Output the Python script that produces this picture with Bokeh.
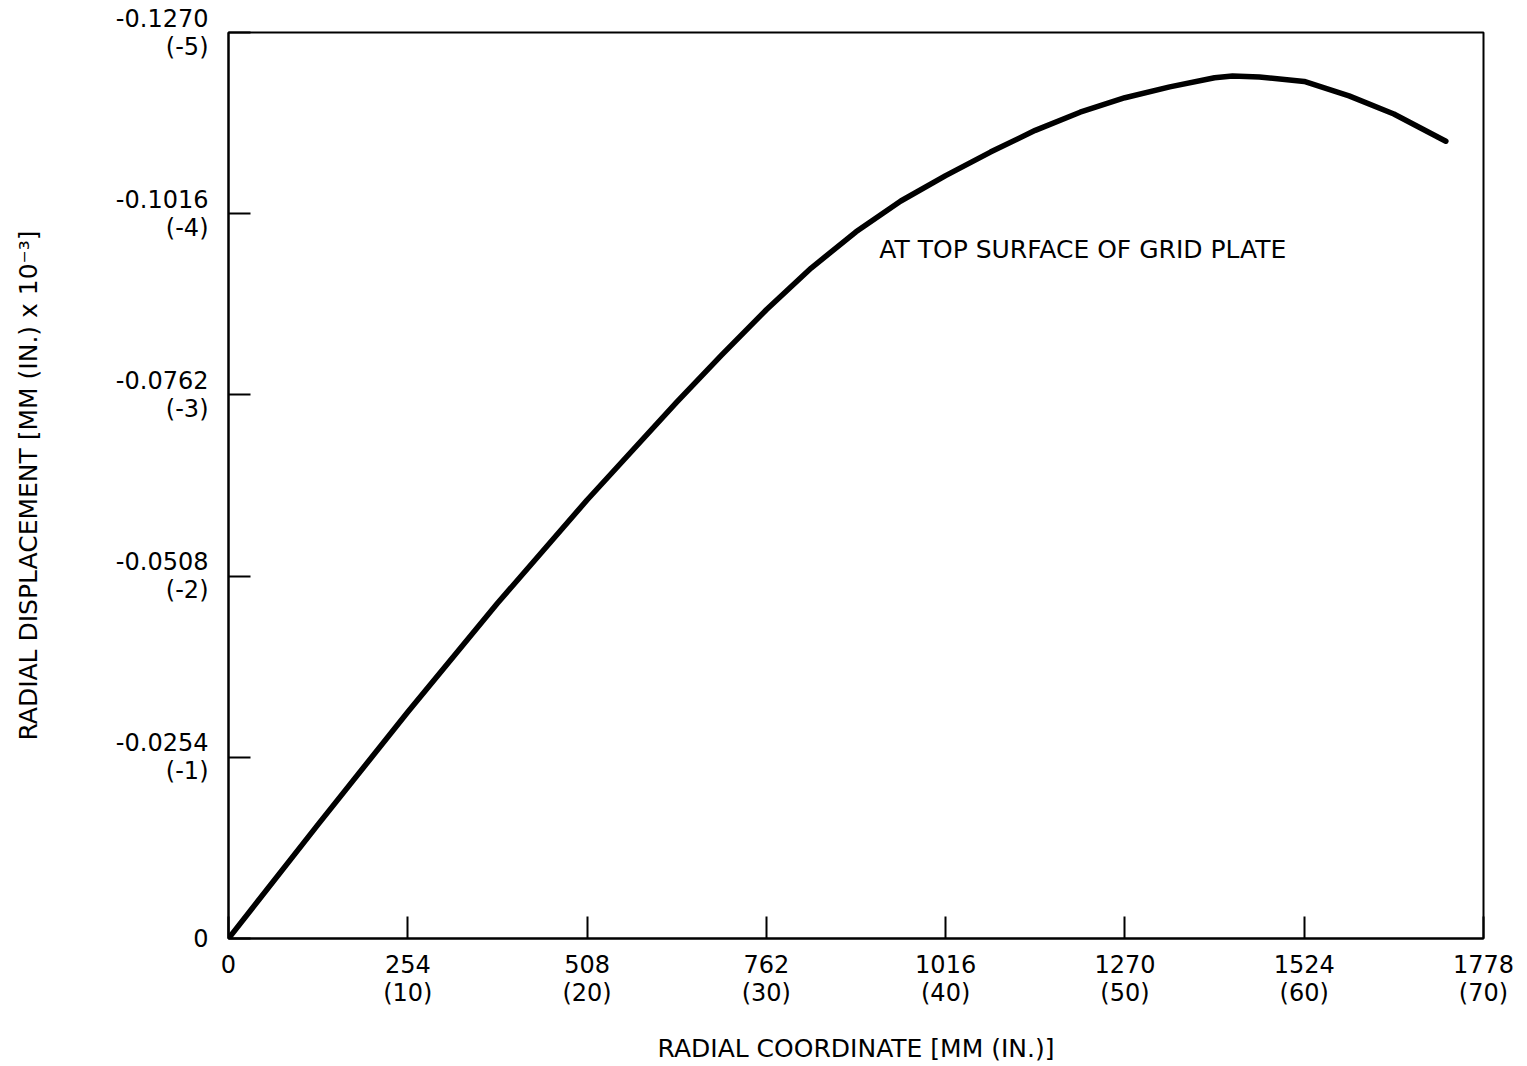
from bokeh.plotting import figure
from bokeh.models import Range1d, FixedTicker, Label
from bokeh.embed import file_html
from bokeh.resources import INLINE

# Radial coordinate (in.) and radial displacement (in. x 10^-3)
radial_in = [0, 5, 10, 15, 20, 25, 27.5, 30, 32.5, 35, 37.5, 40, 42.5, 45, 47.5, 50,
             52.5, 55, 56, 57.5, 60, 62.5, 65, 67.9]
disp_in_e3 = [0, -0.63, -1.25, -1.85, -2.42, -2.96, -3.22, -3.47, -3.70, -3.90, -4.07,
              -4.21, -4.34, -4.46, -4.56, -4.64, -4.70, -4.75, -4.76, -4.755, -4.73,
              -4.65, -4.55, -4.40]

x_ticks = [0, 10, 20, 30, 40, 50, 60, 70]
x_tick_labels = ["0", "254\n(10)", "508\n(20)", "762\n(30)", "1016\n(40)",
                 "1270\n(50)", "1524\n(60)", "1778\n(70)"]
y_ticks = [0, -1, -2, -3, -4, -5]
y_tick_labels = ["0", "-0.0254\n(-1)", "-0.0508\n(-2)", "-0.0762\n(-3)",
                 "-0.1016\n(-4)", "-0.1270\n(-5)"]

annotation_text = "AT TOP SURFACE OF GRID PLATE"
annotation_pos = (36.3, -3.80)

FONT = "DejaVu Sans"

p = figure(width=1519, height=1066, output_backend="svg", toolbar_location=None,
           x_range=Range1d(0, 70), y_range=Range1d(0, -5),
           min_border_left=228, min_border_top=32, min_border_right=36,
           min_border_bottom=128)

p.line(radial_in, disp_in_e3, line_color="black", line_width=5.5,
       line_cap="round", line_join="round")

p.add_layout(Label(x=annotation_pos[0], y=annotation_pos[1], text=annotation_text,
                   text_font=FONT, text_font_size="25px", text_color="black",
                   text_align="left", text_baseline="middle"))

p.xgrid.visible = False
p.ygrid.visible = False
p.outline_line_color = "black"
p.outline_line_width = 2
p.background_fill_color = "white"
p.border_fill_color = "white"

p.xaxis.ticker = FixedTicker(ticks=x_ticks)
p.xaxis.major_label_overrides = dict(zip(x_ticks, x_tick_labels))
p.yaxis.ticker = FixedTicker(ticks=y_ticks)
p.yaxis.major_label_overrides = dict(zip(y_ticks, y_tick_labels))

p.xaxis.axis_label = "RADIAL COORDINATE [MM (IN.)]"
p.yaxis.axis_label = "RADIAL DISPLACEMENT [MM (IN.) x 10\u207b\u00b3]"

for ax in (p.xaxis[0], p.yaxis[0]):
    ax.axis_line_color = "black"
    ax.axis_line_width = 2
    ax.major_tick_line_color = "black"
    ax.major_tick_line_width = 2
    ax.major_tick_in = 22
    ax.major_tick_out = 0
    ax.minor_tick_line_color = None
    ax.major_label_text_font = FONT
    ax.major_label_text_font_size = "24px"
    ax.major_label_text_color = "black"
    ax.major_label_text_line_height = 1.0
    ax.axis_label_text_font = FONT
    ax.axis_label_text_font_size = "25px"
    ax.axis_label_text_font_style = "normal"
    ax.axis_label_text_color = "black"

p.xaxis.major_label_standoff = 12
p.xaxis.axis_label_standoff = 24
p.yaxis.major_label_standoff = 20
p.yaxis.axis_label_standoff = 70

open("out.html", "w").write(file_html(p, INLINE))
